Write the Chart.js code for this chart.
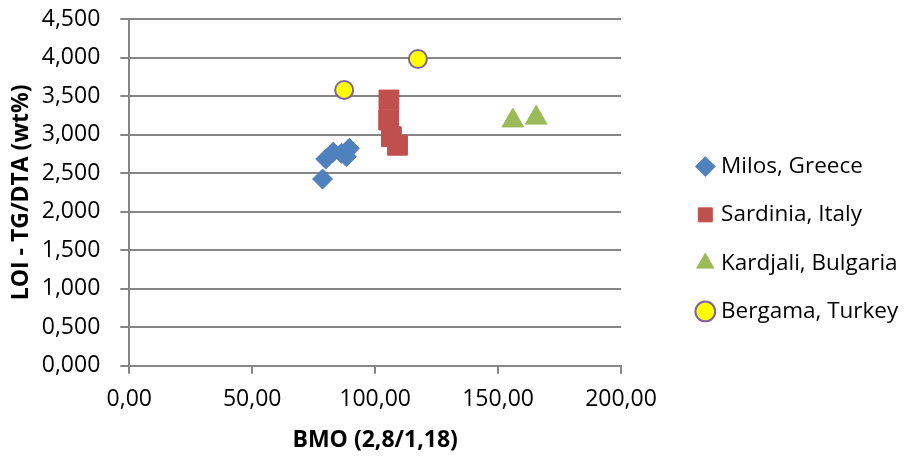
<!DOCTYPE html>
<html>
<head>
<meta charset="utf-8">
<script src="https://cdn.jsdelivr.net/npm/chart.js@4/dist/chart.umd.min.js"></script>
<style>
  html, body { margin: 0; padding: 0; background: #ffffff; }
  #wrap { width: 905px; height: 457px; position: relative; }
</style>
</head>
<body>
<div id="wrap"><canvas id="chart" width="905" height="457"></canvas></div>
<script>
// BMO index vs. loss on ignition for bentonite samples by locality
const seriesNames = ['Milos, Greece', 'Sardinia, Italy', 'Kardjali, Bulgaria', 'Bergama, Turkey'];

const milosBMO = [78.6, 79.9, 82.9, 86.3, 88.1, 89.5, 88.3];
const milosLOI = [2423, 2682, 2770, 2757, 2770, 2822, 2713];

const sardiniaBMO = [105.6, 105.5, 106.6, 109.1];
const sardiniaLOI = [3449, 3189, 2972, 2861];

const kardjaliBMO = [156.0, 165.5];
const kardjaliLOI = [3180, 3217];

const bergamaBMO = [87.4, 117.4];
const bergamaLOI = [3579, 3981];

const xTicks = [0, 50, 100, 150, 200];
const yTicks = [0, 500, 1000, 1500, 2000, 2500, 3000, 3500, 4000, 4500];

const pairs = (xs, ys) => xs.map((x, i) => ({ x: x, y: ys[i] }));
const comma = (v, d) => v.toFixed(d).replace('.', ',');

const FONT = "'Open Sans', 'DejaVu Sans', sans-serif";
const GRID = '#868686';

function draw() {
  new Chart(document.getElementById('chart'), {
    type: 'scatter',
    data: {
      datasets: [
        {
          label: seriesNames[0],
          data: pairs(milosBMO, milosLOI),
          pointStyle: 'rectRot',
          pointRadius: 10,
          backgroundColor: '#4F81BD',
          borderColor: '#4F81BD',
          borderWidth: 1
        },
        {
          label: seriesNames[1],
          data: pairs(sardiniaBMO, sardiniaLOI),
          pointStyle: 'rect',
          pointRadius: 14,
          backgroundColor: '#C0504D',
          borderColor: '#C0504D',
          borderWidth: 1
        },
        {
          label: seriesNames[2],
          data: pairs(kardjaliBMO, kardjaliLOI),
          pointStyle: 'triangle',
          pointRadius: 12.5,
          backgroundColor: '#9BBB59',
          borderColor: '#9BBB59',
          borderWidth: 1
        },
        {
          label: seriesNames[3],
          data: pairs(bergamaBMO, bergamaLOI),
          pointStyle: 'circle',
          pointRadius: 9,
          backgroundColor: '#FFFF00',
          borderColor: '#8064A2',
          borderWidth: 2
        }
      ]
    },
    options: {
      responsive: false,
      animation: false,
      events: [],
      layout: { padding: { left: 8, right: 2, top: 19, bottom: 3 } },
      plugins: {
        tooltip: { enabled: false },
        legend: {
          position: 'right',
          maxWidth: 228,
          // empty title used only as a small top offset for the entries
          title: { display: true, text: '', font: { size: 5, lineHeight: 1 }, padding: 0 },
          labels: {
            usePointStyle: true,
            boxWidth: 9,
            boxHeight: 14,
            padding: 25.8,
            color: '#000000',
            font: { family: FONT, size: 22.5 }
          }
        }
      },
      scales: {
        x: {
          type: 'linear',
          min: 0,
          max: 200,
          afterBuildTicks: (axis) => { axis.ticks = xTicks.map(v => ({ value: v })); },
          afterFit: (s) => { s.height = 88.3; },
          ticks: {
            color: '#000000',
            font: { family: FONT, size: 23 },
            padding: 11.8,
            callback: (v) => comma(v, 2)
          },
          grid: {
            drawOnChartArea: false,
            drawTicks: true,
            tickLength: 8,
            color: GRID,
            lineWidth: 2
          },
          border: { display: true, color: GRID, width: 2 },
          title: {
            display: true,
            text: 'BMO (2,8/1,18)',
            color: '#000000',
            font: { family: FONT, size: 23, weight: 'bold' },
            padding: 0
          }
        },
        y: {
          type: 'linear',
          min: 0,
          max: 4500,
          afterBuildTicks: (axis) => { axis.ticks = yTicks.map(v => ({ value: v })); },
          afterFit: (s) => { s.width = 121.3; s.paddingTop = 0; s.paddingBottom = 0; },
          ticks: {
            color: '#000000',
            font: { family: FONT, size: 23 },
            padding: 20,
            callback: (v) => comma(v / 1000, 3)
          },
          grid: {
            drawOnChartArea: true,
            drawTicks: true,
            tickLength: 9,
            color: GRID,
            lineWidth: 2
          },
          border: { display: true, color: GRID, width: 2 },
          title: {
            display: true,
            text: 'LOI - TG/DTA (wt%)',
            color: '#000000',
            font: { family: FONT, size: 23, weight: 'bold' },
            padding: 0
          }
        },
        // blank spacer between the plot area and the legend
        gap: {
          type: 'linear',
          position: 'right',
          display: true,
          grid: { display: false, drawTicks: false },
          border: { display: false },
          ticks: { display: false },
          afterFit: (s) => { s.width = 54; }
        }
      }
    }
  });
}

// make sure the installed faces are ready before Chart.js measures text
Promise.all([
  document.fonts.load("23px 'Open Sans'"),
  document.fonts.load("bold 23px 'Open Sans'")
]).then(draw, draw);
</script>
</body>
</html>
